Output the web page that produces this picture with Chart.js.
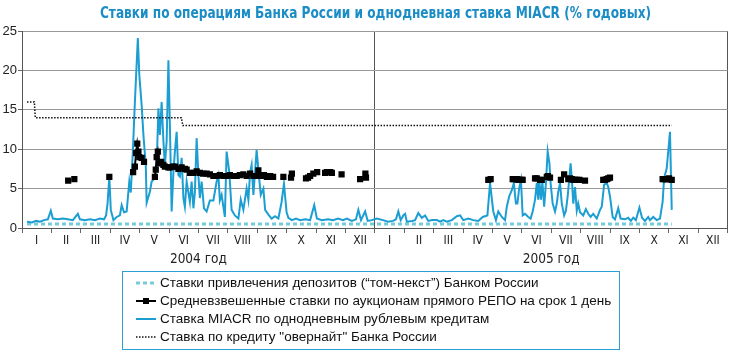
<!DOCTYPE html>
<html>
<head>
<meta charset="utf-8">
<script src="https://cdn.jsdelivr.net/npm/chart.js@4/dist/chart.umd.min.js"></script>
<style>
  html, body { margin: 0; padding: 0; background: #fff; }
  #wrap { position: relative; width: 732px; height: 355px; }
  #title { position: absolute; left: 10px; top: 3px; width: 732px; height: 20px; text-align: center;
    font-family: 'DejaVu Sans Condensed', 'Liberation Sans', sans-serif; font-weight: bold;
    font-size: 16px; line-height: 20px; color: #1a8cc6; white-space: nowrap; }
  #title span { display: inline-block; transform-origin: 50% 50%; }
  #legend { position: absolute; left: 122px; top: 271px; width: 498px; height: 79px;
    border: 1.5px solid #2a9fd6; box-sizing: border-box; padding-top: 2px;
    font-family: 'Liberation Sans', Arial, sans-serif; font-size: 13.5px; color: #111; }
  .row { height: 18px; line-height: 18px; display: flex; align-items: center; white-space: nowrap; }
  .row svg { margin-left: 13px; margin-right: 4px; flex: none; }
</style>
</head>
<body>
<div id="wrap">
  <canvas id="c" width="732" height="355"></canvas>
  <div id="title"><span id="titleText"></span></div>
  <div id="legend"></div>
</div>
<script>
// ---- data ----
const monthLabels = ['I','II','III','IV','V','VI','VII','VIII','IX','X','XI','XII'];
const yearLabels = ['2004 год', '2005 год'];
const yTicks = [0, 5, 10, 15, 20, 25];
const seriesNames = [
  'Ставки привлечения депозитов (“том-некст”) Банком России',
  'Средневзвешенные ставки по аукционам прямого РЕПО на срок 1 день',
  'Ставка MIACR по однодневным рублевым кредитам',
  'Ставка по кредиту "овернайт" Банка России'
];
const titleText = 'Ставки по операциям Банка России и однодневная ставка MIACR (% годовых)';

// x values are in months since 1 Jan 2004
const depositMonth = [0.17, 22.10];
const depositRate  = [0.5, 0.5];

const overnightMonth = [0.17, 0.42, 0.45, 5.42, 5.47, 22.10];
const overnightRate  = [16, 16, 14, 14, 13, 13];

const miacrMonth = [0.17,0.34,0.48,0.61,0.75,0.88,0.98,1.05,1.22,1.39,1.56,1.73,1.90,1.97,2.14,2.31,2.48,2.65,2.79,2.86,2.91,2.97,3.02,3.11,3.22,3.33,3.39,3.47,3.56,3.65,3.70,3.77,3.84,3.94,3.99,4.07,4.13,4.21,4.24,4.35,4.41,4.52,4.58,4.64,4.69,4.75,4.81,4.86,4.92,4.98,5.03,5.09,5.15,5.20,5.26,5.32,5.37,5.43,5.49,5.54,5.60,5.66,5.71,5.77,5.83,5.88,5.94,6.00,6.05,6.11,6.19,6.28,6.39,6.51,6.62,6.68,6.73,6.79,6.90,6.96,7.05,7.13,7.24,7.36,7.44,7.53,7.64,7.70,7.76,7.81,7.87,7.98,8.04,8.12,8.21,8.27,8.38,8.49,8.61,8.72,8.83,8.91,9.00,9.06,9.18,9.32,9.46,9.63,9.80,9.94,10.03,10.20,10.41,10.58,10.75,10.92,11.05,11.22,11.36,11.44,11.53,11.67,11.76,11.90,12.07,12.28,12.45,12.62,12.72,12.80,12.88,12.97,13.03,13.09,13.27,13.37,13.48,13.60,13.71,13.82,13.95,14.11,14.22,14.33,14.45,14.62,14.79,14.90,15.01,15.18,15.35,15.52,15.67,15.83,15.92,16.03,16.12,16.20,16.32,16.43,16.49,16.57,16.66,16.73,16.80,16.85,16.91,16.97,17.03,17.11,17.22,17.30,17.37,17.45,17.51,17.56,17.59,17.65,17.70,17.76,17.82,17.88,17.94,17.98,18.05,18.13,18.19,18.24,18.30,18.36,18.44,18.50,18.56,18.62,18.66,18.71,18.75,18.81,18.87,18.92,18.98,19.09,19.18,19.26,19.34,19.43,19.55,19.66,19.72,19.80,19.89,19.94,20.00,20.09,20.17,20.28,20.36,20.51,20.62,20.71,20.79,20.88,21.00,21.09,21.19,21.30,21.36,21.47,21.59,21.70,21.79,21.84,21.93,21.98,22.04,22.10];
const miacrRate = [0.8,0.7,0.9,0.8,1.0,1.1,2.2,1.2,1.1,1.2,1.1,1.0,1.8,1.1,1.0,1.1,1.0,1.2,1.1,1.6,3.1,6.5,2.3,1.0,1.4,1.6,2.9,2.0,2.1,5.9,4.5,9.7,16,24.1,19.4,15.6,11.8,8,3.2,4.6,5.9,6.3,8,15.2,11.8,16,11,8,11,21.3,13,2.1,7.1,9.7,12.2,6.7,6.5,8.9,3.8,2.7,5.9,4.5,3.3,5.9,2.5,4.5,11.4,6.7,3.8,5.9,2.5,2.1,3.5,3.5,5.9,6.7,3.5,4.2,1.4,9.7,7.1,2.3,1.6,1.2,3.6,2.3,5.0,3.6,7.1,8.0,4.2,9.9,7.4,4.2,5.0,2.3,1.7,1.2,1.5,1.2,3.3,5.6,2.0,1.3,1.0,1.2,1.0,1.1,1.0,2.9,1.2,1.0,1.1,1.0,1.2,1.0,1.2,0.9,1.1,2.3,1.0,2.1,0.9,1.0,1.2,1.0,0.8,0.9,1.1,2.1,1.0,1.6,1.8,0.8,0.9,1.0,1.9,1.3,1.6,0.9,1.0,1.0,0.8,1.0,0.8,1.0,1.5,1.6,1.0,1.2,1.0,0.9,1.4,1.6,5.7,2.1,1.0,2.1,1.4,1.0,2.7,4.0,4.8,5.7,3.1,3.1,5.0,6.1,1.6,1.8,1.4,1.2,2.1,3.6,5.7,3.6,6.3,3.6,5.9,2.7,5.7,9.7,8.2,5.7,3.1,2.1,3.1,4.6,5.7,3.1,1.6,2.2,4.0,6.5,8.2,5.7,3.1,5.2,2.2,3.1,2.0,1.6,2.4,1.8,1.4,1.8,1.2,2.3,2.7,5.5,5.7,5.2,4.0,1.4,1.1,2.5,1.2,1.1,1.3,0.9,1.3,1.0,2.6,1.3,0.9,1.4,1.0,1.4,1.0,1.2,3.3,6.3,7.6,9.7,12.2,2.3];

// null rate = no auction (line break)
const repoMonth = [1.57,1.70,1.78,2.40,2.97,3.40,3.78,3.84,3.88,3.92,3.96,3.99,4.07,4.15,4.35,4.52,4.55,4.58,4.62,4.67,4.73,4.81,4.86,4.98,5.03,5.14,5.20,5.32,5.43,5.54,5.60,5.71,5.83,5.94,6.05,6.16,6.28,6.39,6.51,6.62,6.73,6.85,6.96,7.07,7.19,7.30,7.41,7.53,7.64,7.76,7.87,7.98,8.04,8.13,8.23,8.33,8.44,8.54,8.70,8.89,9.00,9.15,9.18,9.40,9.66,9.73,9.80,9.91,10.04,10.20,10.31,10.37,10.48,10.54,10.70,10.87,11.20,11.50,11.60,11.68,11.70,13.80,15.86,15.94,16.30,16.69,16.73,16.83,16.88,16.94,17.00,17.03,17.25,17.45,17.51,17.56,17.62,17.68,17.76,17.85,17.89,17.96,18.15,18.33,18.40,18.44,18.50,18.58,18.64,18.70,18.75,18.81,18.88,18.96,19.05,19.15,19.45,19.77,19.83,19.89,19.94,20.00,20.90,21.79,21.86,21.93,21.98,22.01,22.10];
const repoRate = [6.0,null,6.2,null,6.5,null,7.1,7.8,9.5,10.7,9.7,9.0,8.9,8.4,null,6.5,7.4,9.0,9.7,8.2,8.4,8.0,7.8,7.7,7.7,7.8,7.8,7.5,7.7,7.5,7.4,7.0,7.0,7.2,7.0,6.9,6.9,6.8,6.6,6.6,6.7,6.6,6.6,6.7,6.6,6.6,6.7,6.8,6.6,6.9,6.6,6.6,7.3,6.6,6.7,6.5,6.6,6.5,null,6.5,null,6.4,6.9,null,6.3,6.4,6.6,6.9,7.1,null,7.0,7.1,7.1,7.0,null,6.8,null,6.2,null,6.9,6.4,null,6.1,6.2,null,6.2,6.2,6.2,6.1,6.1,6.1,6.1,null,6.3,6.3,null,6.1,6.1,null,6.5,6.6,6.4,null,6.1,null,6.8,null,6.2,6.3,6.2,6.1,6.1,6.1,6.1,null,6.0,null,6.1,6.1,6.2,6.3,6.4,null,6.2,6.2,6.2,6.2,6.3,6.1];

const pts = (xs, ys) => xs.map((x, i) => ({ x: x, y: ys[i] }));

// ---- styles ----
const C_DEPOSIT = '#74cbdc';
const C_MIACR = '#1c9ed3';
const NARROW = "'DejaVu Sans Condensed', 'Liberation Sans', sans-serif";

// title (HTML text, condensed to the reference width)
const tEl = document.getElementById('titleText');
tEl.textContent = titleText;
const tw = tEl.getBoundingClientRect().width;
tEl.style.transform = 'scaleX(' + (551 / tw).toFixed(3) + ')';

const chart = new Chart(document.getElementById('c'), {
  type: 'line',
  data: {
    datasets: [
      { label: seriesNames[0], data: pts(depositMonth, depositRate), borderColor: C_DEPOSIT,
        borderWidth: 3, borderDash: [4, 3], pointRadius: 0, order: 4 },
      { label: seriesNames[1], data: pts(repoMonth, repoRate), borderColor: '#000', backgroundColor: '#000',
        borderWidth: 2, pointStyle: 'rect', pointRadius: 4.4, pointBorderWidth: 0, spanGaps: false, order: 0 },
      { label: seriesNames[2], data: pts(miacrMonth, miacrRate), borderColor: C_MIACR,
        borderWidth: 2, pointRadius: 0, tension: 0, order: 2 },
      { label: seriesNames[3], data: pts(overnightMonth, overnightRate), borderColor: '#111',
        borderWidth: 1.5, borderDash: [1.5, 1.5], pointRadius: 0, order: 1 }
    ]
  },
  options: {
    responsive: false,
    animation: false,
    events: [],
    layout: { padding: { left: 0, right: 4, top: 31, bottom: 89 } },
    plugins: {
      legend: { display: false },
      tooltip: { enabled: false },
      title: { display: false }
    },
    scales: {
      x: {
        type: 'linear', position: 'bottom', min: 0, max: 24, weight: 0,
        afterBuildTicks: (s) => {
          const t = [];
          for (let i = 0; i <= 48; i++) t.push({ value: i / 2 });
          s.ticks = t;
        },
        afterFit: (s) => { s.height = 20; },
        ticks: {
          autoSkip: false, maxRotation: 0, padding: 1, color: '#222',
          font: { family: NARROW, size: 12 },
          callback: (v) => {
            const i = Math.floor(v);
            return (v - i) === 0.5 ? monthLabels[i % 12] : '';
          }
        },
        grid: {
          color: (ctx) => (ctx.tick && (ctx.tick.value === 12 || ctx.tick.value === 24)) ? '#555' : 'rgba(0,0,0,0)',
          tickColor: (ctx) => (ctx.tick && Number.isInteger(ctx.tick.value)) ? '#666' : 'rgba(0,0,0,0)',
          tickLength: 5, lineWidth: 1
        },
        border: { color: '#555' }
      },
      xYear: {
        type: 'linear', position: 'bottom', min: 0, max: 24, weight: 1,
        afterBuildTicks: (s) => { s.ticks = [{ value: 6 }, { value: 18 }]; },
        afterFit: (s) => { s.height = 18; },
        ticks: { autoSkip: false, maxRotation: 0, padding: 3, color: '#222',
          font: { family: NARROW, size: 13.5 },
          callback: (v) => yearLabels[v < 12 ? 0 : 1] },
        grid: { display: false, drawTicks: false },
        border: { display: false }
      },
      y: {
        type: 'linear', min: 0, max: 25,
        afterBuildTicks: (s) => { s.ticks = yTicks.map(v => ({ value: v })); },
        afterFit: (s) => { s.width = 22; },
        ticks: { padding: 1, color: '#222', font: { family: "'Liberation Sans', Arial, sans-serif", size: 13 } },
        grid: { color: '#999', tickColor: '#666', tickLength: 4, lineWidth: 1 },
        border: { color: '#555' }
      }
    }
  }
});

// ---- legend (HTML text) ----
const legend = document.getElementById('legend');
const symbols = [
  '<svg width="20" height="8"><line x1="0" y1="4" x2="20" y2="4" stroke="' + C_DEPOSIT + '" stroke-width="3" stroke-dasharray="4 3"/></svg>',
  '<svg width="20" height="8"><line x1="0" y1="4" x2="20" y2="4" stroke="#000" stroke-width="2"/><rect x="7" y="1" width="6" height="6" fill="#000"/></svg>',
  '<svg width="20" height="8"><line x1="0" y1="4" x2="20" y2="4" stroke="' + C_MIACR + '" stroke-width="2"/></svg>',
  '<svg width="20" height="8"><line x1="0" y1="4" x2="20" y2="4" stroke="#111" stroke-width="1.5" stroke-dasharray="1.5 1.5"/></svg>'
];
seriesNames.forEach((name, i) => {
  const row = document.createElement('div');
  row.className = 'row';
  row.innerHTML = symbols[i];
  const span = document.createElement('span');
  span.textContent = name;
  row.appendChild(span);
  legend.appendChild(row);
});
</script>
</body>
</html>
